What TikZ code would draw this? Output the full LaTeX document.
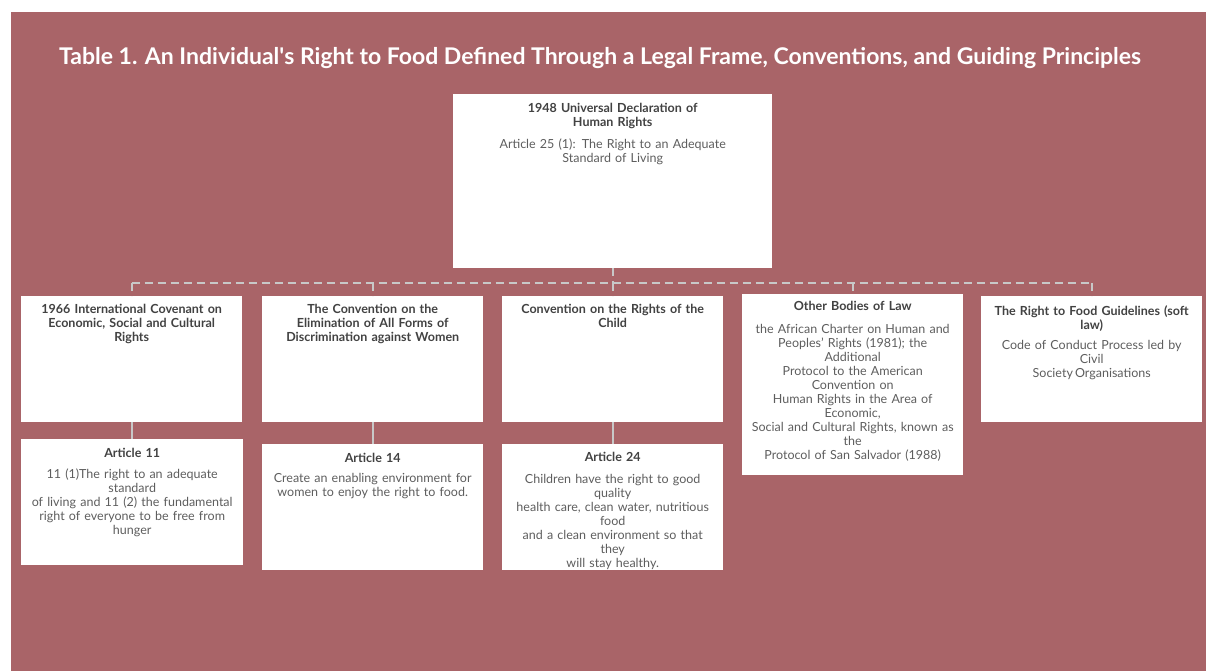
\documentclass[tikz,border=0pt]{standalone}
\usepackage{fontspec}
\setmainfont{Lato}
\definecolor{bg}{HTML}{A96468}
\definecolor{headc}{HTML}{424242}
\definecolor{bodyc}{HTML}{5E5E5E}
\definecolor{linec}{HTML}{C8C8C8}
\newcommand{\hd}[1]{{\bfseries\color{headc}#1}}
\newcommand{\bd}[1]{{\color{bodyc}#1}}
\tikzset{
  card/.style={fill=white, draw=none, inner sep=0pt, anchor=north west},
  txt/.style={anchor=north, align=center, text width=300pt, inner sep=0pt, font=\fontsize{12.5}{14}\selectfont},
  busline/.style={draw=linec, line width=2pt, dash pattern=on 8pt off 5pt},
  link/.style={draw=linec, line width=2pt},
}
\begin{document}
\begin{tikzpicture}[x=1pt,y=-1pt]
\useasboundingbox (0,0) rectangle (1206,671);
\fill[white] (0,0) rectangle (1206,671);
\fill[bg] (11,12) rectangle (1206,671);

\node[anchor=center, text=white, font=\bfseries\fontsize{23}{26}\selectfont] (title) at (600,58)
  {Table 1. An Individual\textquotesingle s Right to Food Defined Through a Legal Frame, Conventions, and Guiding Principles};

% top card
\node[card, minimum width=319pt, minimum height=174pt] (top) at (453,94) {};
\node[txt] (toptxt) at ([yshift=-9pt]top.north) {\hd{1948 Universal Declaration of\\Human Rights}\\[8.5pt]\bd{Article 25 (1): The Right to an Adequate\\Standard of Living}};

% row 1
\node[card, minimum width=221pt, minimum height=126pt] (a) at (21,296) {};
\node[card, minimum width=221pt, minimum height=126pt] (b) at (262,296) {};
\node[card, minimum width=221pt, minimum height=126pt] (c) at (502,296) {};
\node[card, minimum width=221pt, minimum height=181pt] (d) at (742,294) {};
\node[card, minimum width=221pt, minimum height=126pt] (e) at (981,296) {};

\node[txt] (atxt) at ([yshift=-8.5pt]a.north) {\hd{1966 International Covenant on\\Economic, Social and Cultural\\Rights}};
\node[txt] (btxt) at ([yshift=-8.5pt]b.north) {\hd{The Convention on the\\Elimination of All Forms of\\Discrimination against Women}};
\node[txt] (ctxt) at ([yshift=-8.5pt]c.north) {\hd{Convention on the Rights of the\\Child}};
\node[txt] (dtxt) at ([yshift=-7.5pt]d.north) {\hd{Other Bodies of Law}\\[8.5pt]\bd{the African Charter on Human and\\Peoples’ Rights (1981); the\\Additional\\Protocol to the American\\Convention on\\Human Rights in the Area of\\Economic,\\Social and Cultural Rights, known as\\the\\Protocol of San Salvador (1988)}};
\node[txt] (etxt) at ([yshift=-9pt]e.north) {\hd{The Right to Food Guidelines (soft\\law)}\\[6pt]\bd{Code of Conduct Process led by\\Civil\\Society\,Organisations}};

% row 2
\node[card, minimum width=222pt, minimum height=126pt] (a2) at (21,439) {};
\node[card, minimum width=221pt, minimum height=126pt] (b2) at (262,444) {};
\node[card, minimum width=221pt, minimum height=126pt] (c2) at (502,444) {};

\node[txt] (a2txt) at ([yshift=-9pt]a2.north) {\hd{Article 11}\\[7pt]\bd{11 (1)The right to an adequate\\standard\\of living and 11 (2) the fundamental\\right of everyone to be free from\\hunger}};
\node[txt] (b2txt) at ([yshift=-9pt]b2.north) {\hd{Article 14}\\[6.5pt]\bd{Create an enabling environment for\\women to enjoy the right to food.}};
\node[txt] (c2txt) at ([yshift=-8.5pt]c2.north) {\hd{Article 24}\\[7.5pt]\bd{Children have the right to good\\quality\\health care, clean water, nutritious\\food\\and a clean environment so that\\they\\will stay healthy.}};

% connectors
\coordinate (busL) at (131.5,283);
\coordinate (busR) at (1091.5,283);
\draw[busline] (busL) -- (busR);
\draw[busline] (top.south) -- (top.south |- busL);
\draw[busline] (a.north |- busL) -- (a.north);
\draw[busline] (b.north |- busL) -- (b.north);
\draw[busline] (c.north |- busL) -- (c.north);
\draw[busline] (d.north |- busL) -- (d.north);
\draw[busline] (e.north |- busL) -- (e.north);
\draw[link] (a.south) -- (a.south |- a2.north);
\draw[link] (b.south) -- (b.south |- b2.north);
\draw[link] (c.south) -- (c.south |- c2.north);
\end{tikzpicture}
\end{document}
